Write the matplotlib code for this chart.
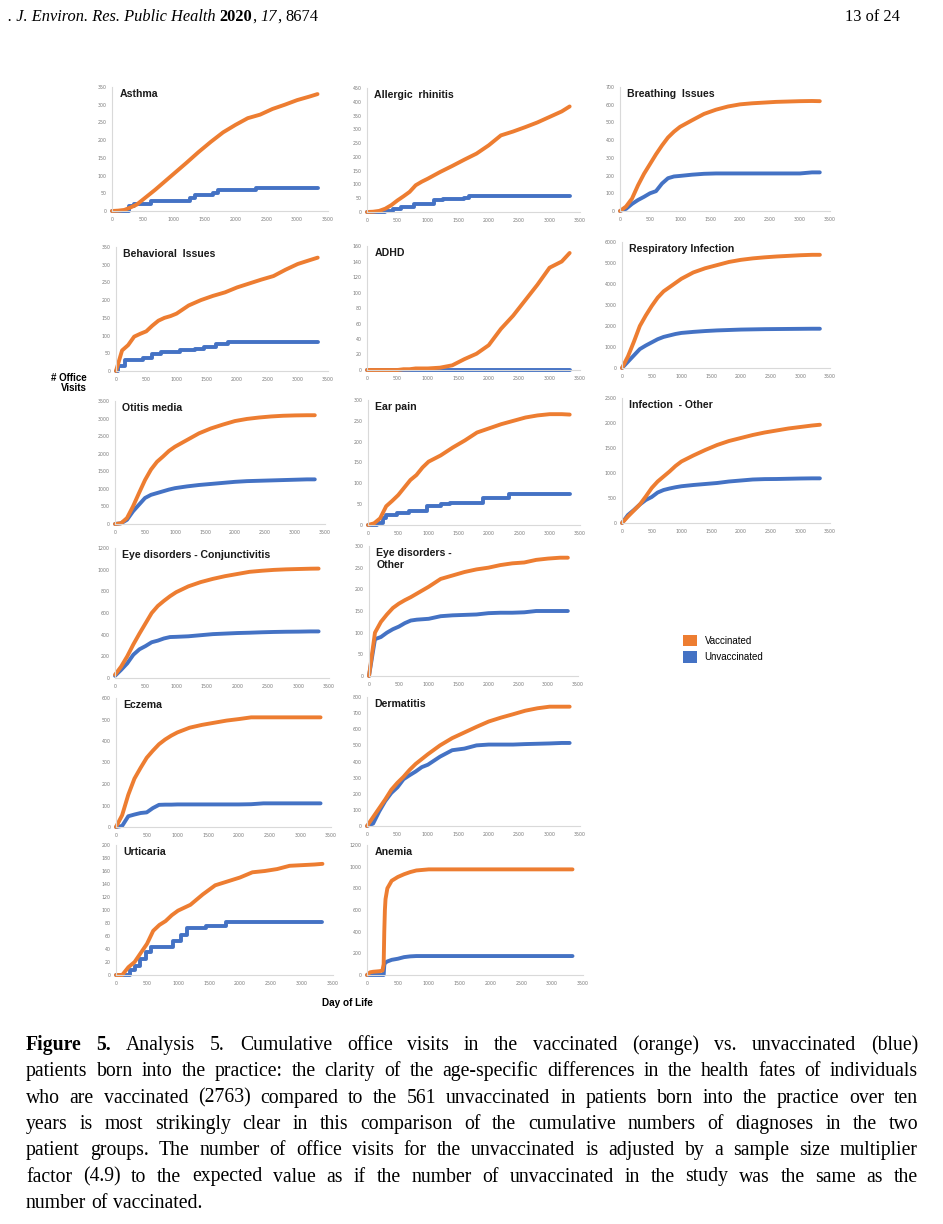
import numpy as np
import matplotlib
matplotlib.use("Agg")
import matplotlib.pyplot as plt
from matplotlib.patches import Patch

W, H = 943, 1224
ORANGE = "#ED7D31"
BLUE = "#4472C4"

# shared day grid for most series
DAYS = [0, 100, 200, 300, 400, 500, 600, 700, 800, 900, 1000, 1200, 1400,
        1600, 1800, 2000, 2200, 2400, 2600, 2800, 3000, 3200, 3330]

ASTHMA_VAX = [0, 1, 3, 10, 18, 32, 46, 60, 75, 90, 105, 135, 166, 195, 222, 243, 262, 272, 288, 300, 313, 323, 330]
ASTHMA_UNVAX_DAYS = [0, 270, 360, 640, 1270, 1340, 1640, 1720, 2330, 3330]
ASTHMA_UNVAX = [0, 13, 20, 28, 38, 45, 52, 58, 64, 64]

ALLERGIC_VAX = [0, 1, 4, 12, 25, 42, 57, 73, 97, 110, 121, 145, 167, 190, 212, 242, 278, 292, 308, 325, 345, 365, 383]
ALLERGIC_UNVAX_DAYS = [0, 300, 420, 560, 780, 1100, 1250, 1600, 1680, 3330]
ALLERGIC_UNVAX = [0, 5, 12, 18, 28, 42, 48, 52, 57, 57]

BREATHING_VAX = [0, 25, 70, 145, 210, 265, 320, 370, 415, 448, 475, 512, 548, 572, 590, 602, 608, 612, 616, 618, 620, 621, 620]
BREATHING_UNVAX = [0, 12, 40, 62, 80, 100, 112, 155, 185, 195, 198, 205, 210, 212, 212, 212, 212, 212, 212, 212, 212, 218, 218]

BEHAVIORAL_VAX = [0, 58, 73, 97, 105, 112, 128, 142, 150, 155, 162, 185, 200, 212, 222, 236, 247, 258, 268, 286, 302, 313, 320]
BEHAVIORAL_UNVAX_DAYS = [0, 30, 150, 450, 600, 750, 1050, 1300, 1450, 1650, 1850, 3330]
BEHAVIORAL_UNVAX = [0, 15, 32, 36, 48, 54, 58, 63, 68, 76, 82, 82]

ADHD_VAX = [0, 0, 0, 0, 0, 0, 1, 1, 2, 2, 2, 3, 6, 14, 21, 32, 53, 70, 90, 110, 132, 140, 151]
ADHD_UNVAX = [0, 0, 0, 0, 0, 0, 0, 0, 0, 0, 0, 0, 0, 0, 0, 0, 0, 0, 0, 0, 0, 0, 0]

RESP_VAX = [0, 550, 1250, 2000, 2500, 2950, 3350, 3650, 3850, 4050, 4250, 4550, 4750, 4900, 5050, 5150, 5220, 5270, 5310, 5340, 5370, 5390, 5390]
RESP_UNVAX = [0, 300, 600, 900, 1070, 1220, 1370, 1480, 1550, 1620, 1670, 1720, 1760, 1790, 1810, 1830, 1840, 1850, 1855, 1860, 1865, 1870, 1870]

OTITIS_VAX = [0, 20, 170, 500, 880, 1250, 1550, 1770, 1920, 2080, 2200, 2390, 2580, 2720, 2830, 2930, 2990, 3030, 3060, 3080, 3090, 3095, 3095]
OTITIS_UNVAX = [0, 20, 120, 360, 550, 740, 830, 880, 930, 980, 1020, 1070, 1110, 1140, 1170, 1200, 1220, 1230, 1240, 1250, 1260, 1270, 1270]

EARPAIN_VAX = [0, 4, 16, 45, 58, 72, 90, 108, 120, 138, 152, 167, 186, 203, 222, 232, 242, 250, 258, 263, 266, 266, 265]
EARPAIN_UNVAX_DAYS = [0, 150, 250, 300, 480, 680, 970, 1200, 1350, 1900, 2330, 3330]
EARPAIN_UNVAX = [0, 5, 18, 24, 28, 34, 45, 50, 54, 65, 74, 74]

INFOTHER_VAX = [0, 130, 250, 370, 530, 700, 830, 930, 1030, 1140, 1230, 1350, 1460, 1560, 1640, 1700, 1760, 1810, 1850, 1890, 1920, 1950, 1965]
INFOTHER_UNVAX = [0, 160, 260, 370, 460, 520, 610, 660, 690, 715, 735, 760, 780, 800, 830, 850, 870, 878, 880, 885, 890, 893, 893]

CONJ_VAX = [30, 105, 200, 310, 410, 505, 600, 665, 712, 755, 792, 846, 885, 915, 940, 960, 980, 990, 998, 1003, 1006, 1009, 1010]
CONJ_UNVAX = [20, 75, 135, 215, 265, 295, 330, 345, 365, 378, 380, 385, 395, 405, 410, 415, 418, 422, 425, 427, 428, 430, 430]

EYEOTHER_VAX = [0, 100, 125, 142, 157, 167, 175, 182, 190, 198, 206, 224, 232, 240, 246, 250, 256, 260, 262, 268, 271, 273, 273]
EYEOTHER_UNVAX = [0, 85, 90, 100, 108, 114, 122, 128, 130, 131, 132, 138, 140, 141, 142, 145, 146, 146, 147, 150, 150, 150, 150]

ECZEMA_VAX = [0, 55, 150, 225, 275, 322, 355, 385, 407, 425, 440, 462, 475, 485, 495, 502, 510, 510, 510, 510, 510, 510, 510]
ECZEMA_UNVAX = [0, 5, 50, 58, 65, 68, 88, 103, 104, 104, 105, 105, 105, 105, 105, 105, 106, 110, 110, 110, 110, 110, 110]

DERM_VAX = [0, 55, 110, 165, 225, 268, 305, 348, 385, 415, 445, 500, 545, 580, 615, 648, 672, 693, 715, 730, 740, 740, 740]
DERM_UNVAX = [0, 15, 90, 155, 205, 240, 290, 315, 338, 365, 380, 430, 470, 480, 500, 505, 505, 505, 508, 510, 512, 515, 515]

URTICARIA_VAX = [0, 0, 12, 20, 34, 48, 68, 77, 83, 92, 99, 108, 124, 138, 144, 150, 158, 160, 163, 168, 169, 170, 171]
URTICARIA_UNVAX_DAYS = [0, 220, 300, 380, 480, 560, 850, 920, 1050, 1150, 1450, 1780, 3330]
URTICARIA_UNVAX = [0, 8, 14, 25, 35, 43, 43, 52, 62, 72, 76, 82, 82]

ANEMIA_DAYS = [0, 50, 100, 200, 250, 270, 280, 290, 300, 330, 400, 500, 600, 700, 800, 1000, 1500, 2000, 2500, 3000, 3330]
ANEMIA_VAX = [0, 25, 30, 35, 40, 100, 400, 600, 700, 800, 870, 905, 930, 950, 965, 975, 975, 975, 975, 975, 975]
ANEMIA_UNVAX = [0, 0, 0, 0, 0, 0, 90, 110, 115, 125, 140, 150, 165, 172, 175, 175, 175, 175, 175, 175, 175]

# title, vax days, vax, unvax days, unvax, y max, y step, blue drawn as steps
PANELS = [
    ("Asthma", DAYS, ASTHMA_VAX, ASTHMA_UNVAX_DAYS, ASTHMA_UNVAX, 350, 50, True),
    ("Allergic  rhinitis", DAYS, ALLERGIC_VAX, ALLERGIC_UNVAX_DAYS, ALLERGIC_UNVAX, 450, 50, True),
    ("Breathing  Issues", DAYS, BREATHING_VAX, DAYS, BREATHING_UNVAX, 700, 100, False),
    ("Behavioral  Issues", DAYS, BEHAVIORAL_VAX, BEHAVIORAL_UNVAX_DAYS, BEHAVIORAL_UNVAX, 350, 50, True),
    ("ADHD", DAYS, ADHD_VAX, DAYS, ADHD_UNVAX, 160, 20, False),
    ("Respiratory Infection", DAYS, RESP_VAX, DAYS, RESP_UNVAX, 6000, 1000, False),
    ("Otitis media", DAYS, OTITIS_VAX, DAYS, OTITIS_UNVAX, 3500, 500, False),
    ("Ear pain", DAYS, EARPAIN_VAX, EARPAIN_UNVAX_DAYS, EARPAIN_UNVAX, 300, 50, True),
    ("Infection  - Other", DAYS, INFOTHER_VAX, DAYS, INFOTHER_UNVAX, 2500, 500, False),
    ("Eye disorders - Conjunctivitis", DAYS, CONJ_VAX, DAYS, CONJ_UNVAX, 1200, 200, False),
    ("Eye disorders -\nOther", DAYS, EYEOTHER_VAX, DAYS, EYEOTHER_UNVAX, 300, 50, False),
    ("Eczema", DAYS, ECZEMA_VAX, DAYS, ECZEMA_UNVAX, 600, 100, False),
    ("Dermatitis", DAYS, DERM_VAX, DAYS, DERM_UNVAX, 800, 100, False),
    ("Urticaria", DAYS, URTICARIA_VAX, URTICARIA_UNVAX_DAYS, URTICARIA_UNVAX, 200, 20, True),
    ("Anemia", ANEMIA_DAYS, ANEMIA_VAX, ANEMIA_DAYS, ANEMIA_UNVAX, 1200, 200, False),
]

# plot areas in page pixels: x of 0, x of 3500, y of 0, y of top
BOXES = [
    (112, 328, 211, 87), (367, 580, 212, 88), (620, 830, 211, 87),
    (116, 328, 371, 247), (367, 580, 370, 246), (622, 830, 368, 242),
    (115, 325, 524, 401), (368, 580, 525, 400), (622, 830, 523, 398),
    (115, 329, 678, 548), (369, 578, 676, 546),
    (116, 331, 827, 698), (367, 580, 826, 697),
    (116, 333, 975, 845), (367, 583, 975, 845),
]

CAPTION = [
    "Figure 5. Analysis 5. Cumulative office visits in the vaccinated (orange) vs. unvaccinated (blue)",
    "patients born into the practice: the clarity of the age-specific differences in the health fates of individuals",
    "who are vaccinated (2763) compared to the 561 unvaccinated in patients born into the practice over ten",
    "years is most strikingly clear in this comparison of the cumulative numbers of diagnoses in the two",
    "patient groups. The number of office visits for the unvaccinated is adjusted by a sample size multiplier",
    "factor (4.9) to the expected value as if the number of unvaccinated in the study was the same as the",
    "number of vaccinated.",
]


def fx(x):
    return x / W


def fy(y):
    return 1 - y / H


fig = plt.figure(figsize=(W / 100, H / 100), dpi=100)
fig.patch.set_facecolor("white")
renderer = fig.canvas.get_renderer()

for (title, vd, vax, ud, unvax, ymax, ystep, steps), (x0, x1, y0, y1) in zip(PANELS, BOXES):
    ax = fig.add_axes([fx(x0), fy(y0), (x1 - x0) / W, (y0 - y1) / H])
    ax.plot(ud, unvax, color=BLUE, lw=2.8, clip_on=False, solid_capstyle="round",
            drawstyle="steps-post" if steps else "default")
    ax.plot(vd, vax, color=ORANGE, lw=2.8, clip_on=False, solid_capstyle="round")
    ax.set_xlim(0, 3500)
    ax.set_ylim(0, ymax)
    ax.set_xticks(range(0, 3501, 500))
    ax.set_yticks(range(0, ymax + 1, ystep))
    ax.tick_params(length=0, labelsize=3.4, labelcolor="#7a7a7a", pad=4)
    for s in ["top", "right"]:
        ax.spines[s].set_visible(False)
    for s in ["left", "bottom"]:
        ax.spines[s].set_color("#d9d9d9")
        ax.spines[s].set_linewidth(0.8)
    ax.set_facecolor("none")
    ax.text(0.035, 0.985, title, transform=ax.transAxes, ha="left", va="top",
            fontsize=7.6, fontweight="bold", family="Liberation Sans",
            color="#1a1a1a", linespacing=1.2)

fig.text(fx(87), fy(383), "# Office\nVisits", ha="right", va="center",
         fontsize=7, fontweight="bold", family="Liberation Sans",
         multialignment="right", linespacing=0.95)
fig.text(fx(347), fy(1003), "Day of Life", ha="center", va="center",
         fontsize=7.2, fontweight="bold", family="Liberation Sans")

handles = [Patch(facecolor=ORANGE, edgecolor="none"), Patch(facecolor=BLUE, edgecolor="none")]
fig.legend(handles, ["Vaccinated", "Unvaccinated"], loc="upper left",
           bbox_to_anchor=(fx(674), fy(626)), frameon=False,
           prop={"family": "Liberation Sans", "size": 7},
           handlelength=1.45, handleheight=1.45, handletextpad=0.8, labelspacing=0.5)

SERIF = "Liberation Serif"


def width(s, **kw):
    t = fig.text(0, 0, s, **kw)
    w = t.get_window_extent(renderer).width
    t.remove()
    return w


# page header
hsize = 11.8
sp = width("x x", family=SERIF, fontsize=hsize) - width("xx", family=SERIF, fontsize=hsize)
x = 8
for s, style, weight in [(". J. Environ. Res. Public Health", "italic", "normal"),
                         (" ", "normal", "normal"), ("2020", "normal", "bold"),
                         (",", "normal", "normal"), (" ", "normal", "normal"),
                         ("17", "italic", "normal"), (",", "normal", "normal"),
                         (" ", "normal", "normal"), ("8674", "normal", "normal")]:
    if s == " ":
        x += sp
        continue
    t = fig.text(fx(x), fy(21), s, family=SERIF, fontsize=hsize, style=style,
                 fontweight=weight, va="baseline")
    x += t.get_window_extent(renderer).width
fig.text(fx(900), fy(21), "13 of 24", family=SERIF, fontsize=hsize, ha="right", va="baseline")

# caption, justified between x=26 and x=918
csize = 14.2
left, right = 26, 918
csp = width("x x", family=SERIF, fontsize=csize) - width("xx", family=SERIF, fontsize=csize)
for i, line in enumerate(CAPTION):
    words = line.split(" ")
    weights = ["bold" if (i == 0 and j < 2) else "normal" for j in range(len(words))]
    ws = [width(w, family=SERIF, fontsize=csize, fontweight=b) for w, b in zip(words, weights)]
    if i < len(CAPTION) - 1:
        gap = (right - left - sum(ws)) / (len(words) - 1)
    else:
        gap = csp
    x = left
    yb = 1050 + 26.3 * i
    for w, b, wd in zip(words, weights, ws):
        fig.text(fx(x), fy(yb), w, family=SERIF, fontsize=csize, fontweight=b, va="baseline")
        x += wd + gap

fig.savefig("out.png", dpi=100, facecolor="white")
